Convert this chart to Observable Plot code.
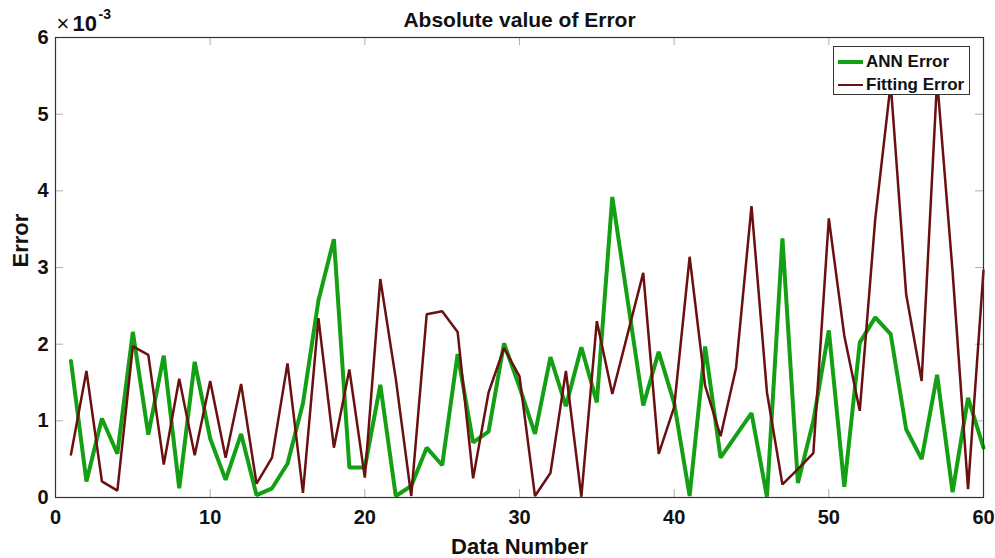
<!DOCTYPE html>
<html>
<head>
<meta charset="utf-8">
<script src="https://cdn.jsdelivr.net/npm/d3@7"></script>
<script src="https://cdn.jsdelivr.net/npm/@observablehq/plot@0.6"></script>
<style>
  body { margin: 0; background: #fff; }
  #wrap { position: relative; width: 995px; height: 558px; }
  #legend { position: absolute; left: 833px; top: 46px; width: 137px; height: 49px;
            border: 1px solid #333; background: #fff; box-sizing: border-box;
            font-family: "Liberation Sans", Arial, sans-serif; font-weight: bold; font-size: 17px; color: #111; }
  .row { position: absolute; left: 0; height: 20px; line-height: 20px; white-space: nowrap; }
  .sw { position: absolute; left: 4px; width: 25px; }
  .lab { position: absolute; left: 32px; top: 0; }
</style>
</head>
<body>
<div id="wrap"></div>
<script>
// ---- data (values in units of 10^-3) ----
const dataNumber = [1,2,3,4,5,6,7,8,9,10,11,12,13,14,15,16,17,18,19,20,
                    21,22,23,24,25,26,27,28,29,30,31,32,33,34,35,36,37,38,39,40,
                    41,42,43,44,45,46,47,48,49,50,51,52,53,54,55,56,57,58,59,60];
const annError = [1.78,0.21,1.03,0.57,2.16,0.82,1.85,0.12,1.77,0.77,
                  0.23,0.83,0.03,0.12,0.44,1.23,2.57,3.37,0.39,0.39,
                  1.47,0.02,0.15,0.65,0.42,1.87,0.72,0.86,2.01,1.44,
                  0.83,1.83,1.19,1.96,1.24,3.92,2.56,1.20,1.90,1.23,
                  0.02,1.97,0.52,0.81,1.10,0.01,3.38,0.19,1.00,2.18,
                  0.14,2.02,2.35,2.13,0.89,0.50,1.60,0.07,1.30,0.65];
const fittingError = [0.56,1.65,0.21,0.09,1.97,1.86,0.43,1.55,0.55,1.52,
                      0.52,1.48,0.18,0.52,1.75,0.06,2.34,0.65,1.67,0.26,
                      2.85,1.55,0.02,2.39,2.43,2.16,0.25,1.37,1.95,1.58,
                      0.02,0.32,1.65,0.01,2.30,1.35,2.14,2.93,0.57,1.18,
                      3.14,1.46,0.80,1.69,3.80,1.37,0.17,0.37,0.58,3.64,
                      2.11,1.13,3.63,5.40,2.65,1.52,5.45,2.95,0.11,2.96];
const seriesNames = ["ANN Error", "Fitting Error"];
const xTicks = [0,10,20,30,40,50,60];
const yTicks = [0,1,2,3,4,5,6];
const titleText = "Absolute value of Error";
const xLabel = "Data Number";
const yLabel = "Error";
const expTimes = "×";
const expBase = "10";
const expPow = "-3";

// ---- layout / style ----
const W = 995, H = 558, mL = 55, mR = 12, mT = 37, mB = 61;
const fw = W - mL - mR, fh = H - mT - mB, tk = 8;
const green = "#14a014", red = "#6a1010";

const rows = dataNumber.map((n, i) => ({n, ann: annError[i], fit: fittingError[i]}));

const chart = Plot.plot({
  width: W, height: H,
  marginLeft: mL, marginRight: mR, marginTop: mT, marginBottom: mB,
  style: {fontFamily: '"Liberation Sans", Arial, sans-serif', fontWeight: "bold", fontSize: "20px", color: "#111", background: "#fff"},
  x: {domain: [0, 60]},
  y: {domain: [0, 6]},
  marks: [
    Plot.tickX(xTicks, {x: d => d, insetTop: fh - tk, stroke: "#b0b0b0"}),
    Plot.tickX(xTicks, {x: d => d, insetBottom: fh - tk, stroke: "#b0b0b0"}),
    Plot.tickY(yTicks, {y: d => d, insetRight: fw - tk, stroke: "#b0b0b0"}),
    Plot.tickY(yTicks, {y: d => d, insetLeft: fw - tk, stroke: "#b0b0b0"}),
    Plot.line(rows, {x: "n", y: "ann", stroke: green, strokeWidth: 4, strokeLinejoin: "miter"}),
    Plot.line(rows, {x: "n", y: "fit", stroke: red, strokeWidth: 2.5, strokeLinejoin: "miter"}),
    Plot.frame({stroke: "#333", strokeWidth: 1.2}),
    Plot.axisX({ticks: xTicks, tickSize: 0, tickPadding: 12, label: null, tickFormat: d => String(d)}),
    Plot.axisY({ticks: yTicks, tickSize: 0, tickPadding: 7, label: null, tickFormat: d => String(d)}),
    Plot.text([titleText], {text: d => d, frameAnchor: "top", dy: -17, fontSize: 21, lineAnchor: "middle"}),
    Plot.text([xLabel], {text: d => d, frameAnchor: "bottom", dy: 49, fontSize: 22, lineAnchor: "middle"}),
    Plot.text([yLabel], {text: d => d, frameAnchor: "left", dx: -35, rotate: -90, fontSize: 22, lineAnchor: "middle"}),
    Plot.text([expTimes], {text: d => d, frameAnchor: "top-left", dx: 1, dy: -7, textAnchor: "start", lineAnchor: "bottom", fontSize: 22, fontWeight: "normal"}),
    Plot.text([expBase], {text: d => d, frameAnchor: "top-left", dx: 17, dy: -7, textAnchor: "start", lineAnchor: "bottom", fontSize: 22}),
    Plot.text([expPow], {text: d => d, frameAnchor: "top-left", dx: 43, dy: -19, textAnchor: "start", lineAnchor: "bottom", fontSize: 14})
  ]
});
const wrap = document.getElementById("wrap");
wrap.appendChild(chart);

// legend (drawn over the plot, as in the original)
const legend = document.createElement("div");
legend.id = "legend";
const legendStyles = [{color: green, w: 4, top: 5}, {color: red, w: 2.5, top: 28}];
seriesNames.forEach((name, i) => {
  const r = document.createElement("div");
  r.className = "row";
  r.style.top = legendStyles[i].top + "px";
  const sw = document.createElement("div");
  sw.className = "sw";
  sw.style.height = legendStyles[i].w + "px";
  sw.style.top = (10 - legendStyles[i].w / 2) + "px";
  sw.style.background = legendStyles[i].color;
  const lab = document.createElement("span");
  lab.className = "lab";
  lab.textContent = name;
  r.appendChild(sw); r.appendChild(lab);
  legend.appendChild(r);
});
wrap.appendChild(legend);
</script>
</body>
</html>
